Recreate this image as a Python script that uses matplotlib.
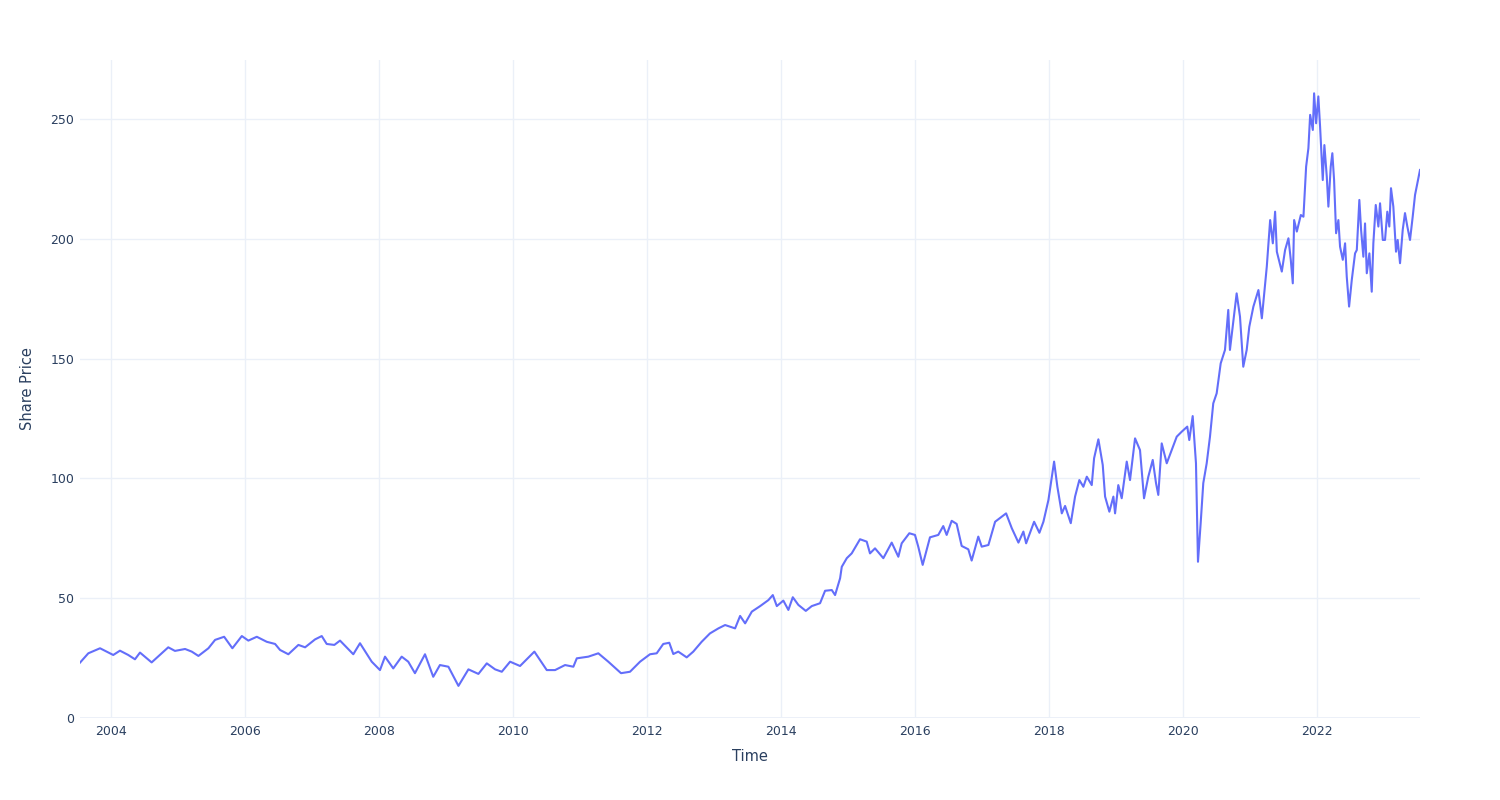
import matplotlib
matplotlib.use("Agg")
import matplotlib.pyplot as plt
import matplotlib.dates as mdates
import pandas as pd

# values (decimal year, share price)
years = [
    2003.537, 2003.661, 2003.836, 2003.936, 2004.034, 2004.134, 2004.258, 2004.358,
    2004.433, 2004.607, 2004.757, 2004.855, 2004.955, 2005.104, 2005.204, 2005.303,
    2005.452, 2005.552, 2005.687, 2005.810, 2005.951, 2006.049, 2006.175, 2006.324,
    2006.448, 2006.522, 2006.646, 2006.796, 2006.896, 2007.045, 2007.145, 2007.219,
    2007.333, 2007.418, 2007.616, 2007.716, 2007.891, 2008.015, 2008.090, 2008.213,
    2008.339, 2008.437, 2008.537, 2008.687, 2008.810, 2008.910, 2009.034, 2009.184,
    2009.333, 2009.482, 2009.607, 2009.731, 2009.831, 2009.955, 2010.104, 2010.318,
    2010.503, 2010.627, 2010.776, 2010.900, 2010.951, 2011.124, 2011.273, 2011.422,
    2011.612, 2011.746, 2011.896, 2012.045, 2012.145, 2012.243, 2012.333, 2012.393,
    2012.467, 2012.593, 2012.691, 2012.816, 2012.940, 2013.064, 2013.164, 2013.313,
    2013.388, 2013.463, 2013.563, 2013.687, 2013.810, 2013.876, 2013.936, 2014.034,
    2014.109, 2014.175, 2014.258, 2014.369, 2014.458, 2014.582, 2014.657, 2014.757,
    2014.806, 2014.881, 2014.906, 2014.981, 2015.055, 2015.179, 2015.279, 2015.328,
    2015.403, 2015.527, 2015.652, 2015.751, 2015.801, 2015.915, 2016.000, 2016.049,
    2016.115, 2016.224, 2016.348, 2016.422, 2016.473, 2016.548, 2016.622, 2016.697,
    2016.796, 2016.846, 2016.945, 2016.996, 2017.094, 2017.194, 2017.358, 2017.443,
    2017.542, 2017.616, 2017.657, 2017.776, 2017.855, 2017.915, 2017.990, 2018.075,
    2018.124, 2018.190, 2018.239, 2018.324, 2018.388, 2018.452, 2018.512, 2018.563,
    2018.637, 2018.672, 2018.736, 2018.801, 2018.836, 2018.900, 2018.960, 2018.985,
    2019.034, 2019.085, 2019.160, 2019.209, 2019.284, 2019.358, 2019.418, 2019.482,
    2019.548, 2019.597, 2019.631, 2019.682, 2019.757, 2019.831, 2019.906, 2019.981,
    2020.064, 2020.094, 2020.145, 2020.194, 2020.224, 2020.264, 2020.303, 2020.354,
    2020.403, 2020.452, 2020.503, 2020.563, 2020.627, 2020.676, 2020.701, 2020.742,
    2020.801, 2020.851, 2020.900, 2020.951, 2020.990, 2021.049, 2021.124, 2021.175,
    2021.249, 2021.299, 2021.339, 2021.373, 2021.399, 2021.473, 2021.522, 2021.572,
    2021.607, 2021.637, 2021.657, 2021.697, 2021.757, 2021.796, 2021.836, 2021.870,
    2021.896, 2021.936, 2021.955, 2021.985, 2022.019, 2022.045, 2022.085, 2022.109,
    2022.145, 2022.169, 2022.204, 2022.228, 2022.254, 2022.284, 2022.318, 2022.343,
    2022.384, 2022.418, 2022.443, 2022.478, 2022.518, 2022.567, 2022.593, 2022.631,
    2022.657, 2022.691, 2022.716, 2022.742, 2022.781, 2022.816, 2022.840, 2022.876,
    2022.915, 2022.940, 2022.981, 2023.015, 2023.049, 2023.079, 2023.104, 2023.139,
    2023.179, 2023.204, 2023.239, 2023.279, 2023.313, 2023.348, 2023.388, 2023.428,
    2023.463, 2023.497, 2023.537,
]
prices = [
    23.1, 27.0, 29.1, 27.7, 26.3, 28.1, 26.3, 24.5,
    27.3, 23.2, 27.0, 29.5, 28.0, 28.8, 27.7, 25.9,
    29.1, 32.6, 33.9, 29.1, 34.2, 32.3, 33.9, 31.8,
    30.9, 28.4, 26.6, 30.5, 29.5, 32.8, 34.2, 30.9,
    30.5, 32.3, 26.6, 31.2, 23.5, 20.0, 25.6, 20.7,
    25.6, 23.5, 18.7, 26.6, 17.2, 22.1, 21.4, 13.4,
    20.3, 18.4, 22.8, 20.3, 19.3, 23.5, 21.7, 27.7,
    20.0, 20.0, 22.1, 21.4, 24.9, 25.6, 27.0, 23.5,
    18.7, 19.3, 23.5, 26.6, 27.0, 30.9, 31.4, 26.7,
    27.7, 25.3, 27.7, 31.8, 35.3, 37.4, 38.8, 37.4,
    42.6, 39.5, 44.4, 46.7, 49.2, 51.3, 46.7, 49.0,
    45.1, 50.4, 47.2, 44.7, 46.7, 47.9, 53.1, 53.4,
    51.3, 58.3, 63.1, 66.7, 68.7, 74.6, 73.6, 68.7,
    70.8, 66.7, 73.2, 67.3, 72.9, 77.1, 76.4, 71.5,
    63.9, 75.4, 76.4, 80.1, 76.4, 82.3, 81.0, 71.8,
    70.4, 65.7, 75.7, 71.5, 72.2, 81.9, 85.4, 79.2,
    73.2, 77.8, 72.9, 81.9, 77.3, 81.9, 91.0, 107.0,
    96.5, 85.4, 88.5, 81.3, 92.4, 99.3, 96.5, 100.7,
    97.2, 108.4, 116.3, 105.6, 92.4, 86.1, 92.4, 85.4,
    97.2, 91.7, 107.0, 99.3, 116.7, 111.8, 91.7, 100.7,
    107.7, 98.0, 93.1, 114.6, 106.3, 111.8, 117.4, 119.5,
    121.6, 116.0, 126.0, 106.3, 65.2, 81.3, 98.0, 106.3,
    117.4, 131.3, 135.5, 148.0, 153.6, 170.3, 153.6, 163.3,
    177.2, 167.5, 146.6, 153.6, 163.3, 171.7, 178.6, 166.8,
    188.4, 207.8, 198.1, 211.3, 194.6, 186.3, 195.3, 200.2,
    191.2, 181.4, 207.8, 203.0, 209.9, 209.2, 230.1, 237.8,
    251.7, 245.4, 260.7, 248.2, 259.4, 246.8, 224.5, 239.1,
    225.9, 213.4, 230.1, 235.7, 224.5, 202.3, 207.8, 196.7,
    191.2, 198.1, 184.2, 171.7, 182.8, 193.9, 195.3, 216.2,
    203.7, 192.5, 206.4, 185.6, 193.9, 177.9, 198.1, 214.1,
    205.1, 214.8, 199.5, 199.5, 211.3, 205.1, 221.1, 213.4,
    194.6, 199.5, 189.8, 203.7, 210.7, 205.1, 199.5, 209.2,
    218.3, 223.1, 228.7,
]
tick_years = list(range(2004, 2023, 2))
y_ticks = [0, 50, 100, 150, 200, 250]


def to_date(y):
    start = pd.Timestamp(year=int(y), month=1, day=1)
    return start + pd.Timedelta(days=(y - int(y)) * 365.25)


dates = [to_date(y) for y in years]
plt.rcParams['font.family'] = ['DejaVu Sans']
text_col = '#2a3f5f'
grid_col = '#EBF0F8'

fig = plt.figure(figsize=(15, 8), dpi=100)
ax = fig.add_axes([80 / 1500, 1 - 718 / 800, 1340 / 1500, 658 / 800])

ax.plot(dates, prices, color='#636efa', linewidth=1.5, zorder=3)

ax.set_xlim(dates[0], dates[-1])
ax.set_ylim(0, 274.6)
ax.set_xticks([pd.Timestamp(year=y, month=1, day=1) for y in tick_years])
ax.xaxis.set_major_formatter(mdates.DateFormatter('%Y'))
ax.set_yticks(y_ticks)

ax.grid(True, color=grid_col, linewidth=1, zorder=0)
ax.axhline(0, color=grid_col, linewidth=2, zorder=1)
for s in ax.spines.values():
    s.set_visible(False)
ax.tick_params(length=0, labelsize=9, labelcolor=text_col)
ax.tick_params(axis='y', pad=4)
ax.tick_params(axis='x', pad=5)

ax.set_xlabel('Time', fontsize=10.5, color=text_col, labelpad=8)
ax.set_ylabel('Share Price', fontsize=10.5, color=text_col, labelpad=11)

fig.savefig('out.png', dpi=100)
